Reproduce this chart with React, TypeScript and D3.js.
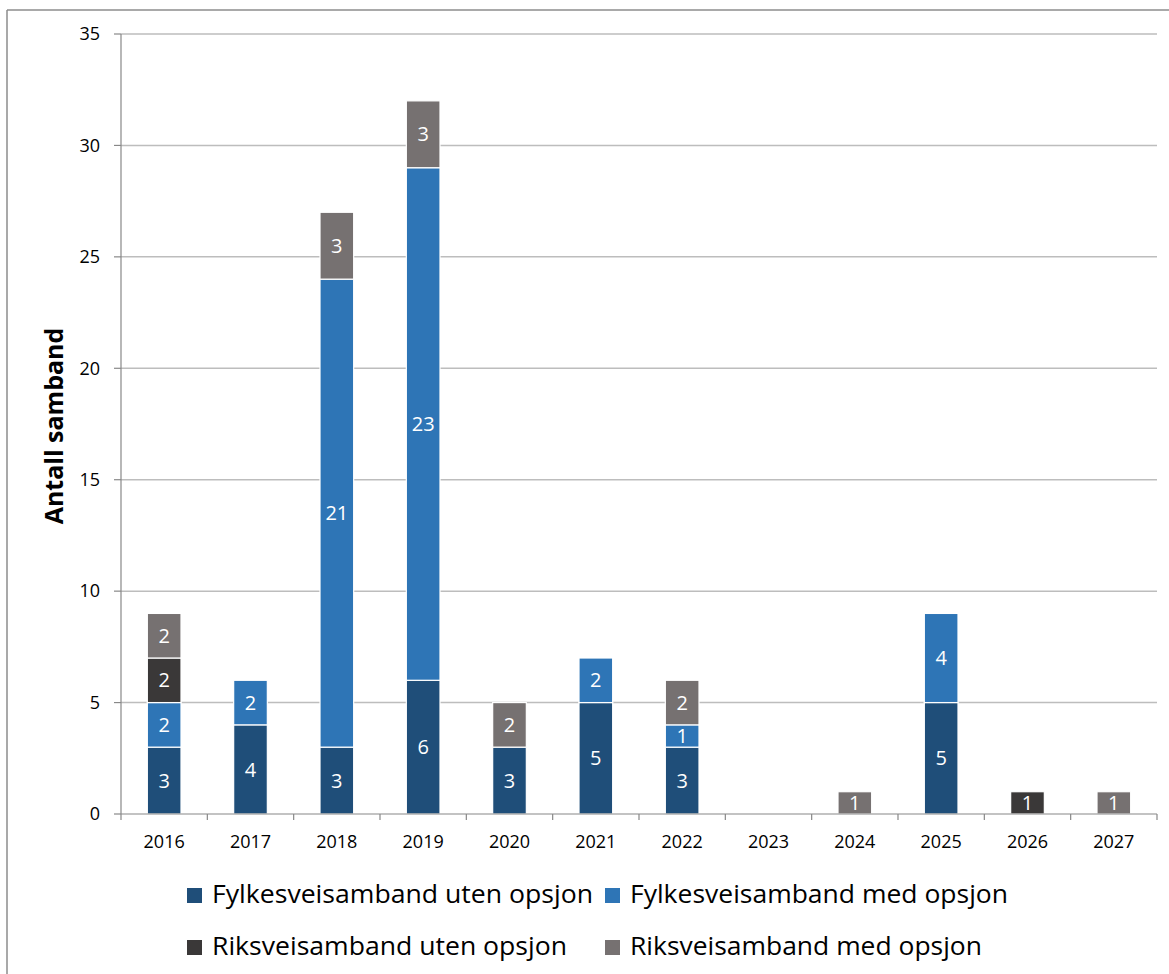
import React from "react";
import * as d3 from "d3";

const years = ["2016","2017","2018","2019","2020","2021","2022","2023","2024","2025","2026","2027"];
const fylkesUten = [3,4,3,6,3,5,3,0,0,5,0,0];
const fylkesMed = [2,2,21,23,0,2,1,0,0,4,0,0];
const riksUten = [2,0,0,0,0,0,0,0,0,0,1,0];
const riksMed = [2,0,3,3,2,0,2,0,1,0,0,1];
const seriesNames = ["Fylkesveisamband uten opsjon","Fylkesveisamband med opsjon","Riksveisamband uten opsjon","Riksveisamband med opsjon"];
const seriesColors = ["#1F4E79","#2E75B6","#3A3838","#767171"];
const yTicks = [0,5,10,15,20,25,30,35];

const W = 1169, H = 974;
const left = 121, right = 1157, top = 34, bottom = 814;
const font = "'Open Sans', sans-serif";

export default function App() {
  const x = d3.scaleBand().domain(years).range([left, right]).paddingInner(0.61).paddingOuter(0.305);
  const y = d3.scaleLinear().domain([0, 35]).range([bottom, top]);
  const table = years.map((yr, i) => ({ year: yr, s0: fylkesUten[i], s1: fylkesMed[i], s2: riksUten[i], s3: riksMed[i] }));
  const stack = d3.stack<any>().keys(["s0","s1","s2","s3"])(table);
  const step = (right - left) / years.length;
  const legend = [
    { sx: 187, ty: 903, len: 381 },
    { sx: 605, ty: 903, len: 378 },
    { sx: 187, ty: 955, len: 355 },
    { sx: 605, ty: 955, len: 352 },
  ];
  return (
    <svg width={W} height={H} style={{ position: "absolute", left: 0, top: 0, background: "#fff" }} fontFamily={font}>
      <rect x={0} y={0} width={W} height={H} fill="#fff" />
      <line x1={7} y1={10} x2={W} y2={10} stroke="#8c8c8c" strokeWidth={1.5} />
      <line x1={7} y1={10} x2={7} y2={H} stroke="#8c8c8c" strokeWidth={1.5} />
      {yTicks.map(t => (
        <g key={t}>
          {t > 0 && <line x1={left} x2={right} y1={y(t)} y2={y(t)} stroke="#bdbdbd" strokeWidth={1.5} />}
          <line x1={114} x2={left} y1={y(t)} y2={y(t)} stroke="#888" strokeWidth={1.2} />
          <text x={100} y={y(t)} dy="0.35em" textAnchor="end" fontSize={18} fill="#000">{t}</text>
        </g>
      ))}
      {stack.map((layer, si) => (
        <g key={si}>
          {layer.map((d, i) => {
            const v = d[1] - d[0];
            if (v <= 0) return null;
            const bx = x(years[i])!;
            const bw = x.bandwidth();
            const y0 = y(d[0]), y1 = y(d[1]);
            return (
              <g key={i}>
                <rect x={bx} y={y1} width={bw} height={y0 - y1} fill={seriesColors[si]} stroke="#fff" strokeWidth={1.2} />
                <text x={bx + bw / 2} y={(y0 + y1) / 2} dy="0.36em" textAnchor="middle" fontSize={20} fill="#fff">{v}</text>
              </g>
            );
          })}
        </g>
      ))}
      <line x1={left} x2={left} y1={top} y2={bottom} stroke="#888" strokeWidth={1.2} />
      <line x1={left} x2={right} y1={bottom} y2={bottom} stroke="#888" strokeWidth={1.2} />
      {d3.range(years.length + 1).map(k => (
        <line key={k} x1={left + k * step} x2={left + k * step} y1={bottom} y2={bottom + 6} stroke="#888" strokeWidth={1.2} />
      ))}
      {years.map(yr => (
        <text key={yr} x={x(yr)! + x.bandwidth() / 2} y={842} dy="0.35em" textAnchor="middle" fontSize={18} fill="#000">{yr}</text>
      ))}
      <text transform={`translate(63,426) rotate(-90)`} textAnchor="middle" fontSize={25} fontWeight="bold" fill="#000">Antall samband</text>
      {seriesNames.map((name, i) => (
        <g key={name}>
          <rect x={legend[i].sx} y={legend[i].ty - 15} width={15} height={15} fill={seriesColors[i]} />
          <text x={legend[i].sx + 25} y={legend[i].ty} fontSize={26} fill="#000" textLength={legend[i].len} lengthAdjust="spacingAndGlyphs">{name}</text>
        </g>
      ))}
    </svg>
  );
}
